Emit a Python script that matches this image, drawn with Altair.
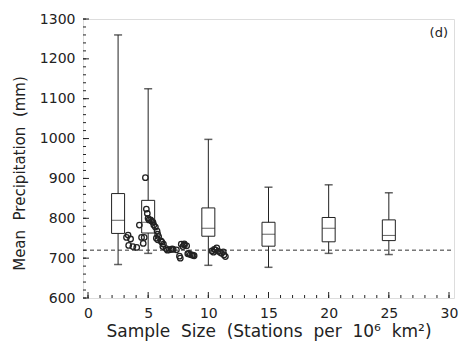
import altair as alt
import pandas as pd

# ---- data ----
box_x = [2.5, 5, 10, 15, 20, 25]
whisk_hi = [1260, 1125, 998, 878, 884, 864]
q3 = [862, 845, 826, 790, 802, 796]
median = [795, 790, 775, 760, 775, 757]
q1 = [762, 763, 755, 730, 741, 744]
whisk_lo = [684, 712, 682, 677, 712, 709]

pts_x = [3.2, 3.33, 3.54, 3.38, 3.73, 4.05, 4.27, 4.45, 4.67, 4.59, 4.77, 4.85,
         4.93, 4.99, 5.07, 5.2, 5.28, 5.4, 5.47, 5.6, 5.68, 5.74, 5.79, 5.8,
         5.87, 6.06, 6.14, 6.22, 6.27, 6.49, 6.6, 6.76, 6.9, 7.0, 7.08, 7.35,
         7.6, 7.67, 7.75, 7.88, 8.0, 8.02, 8.2, 8.29, 8.37, 8.5, 8.63, 8.74,
         8.82, 10.3, 10.43, 10.5, 10.6, 10.7, 10.84, 11.0, 11.1, 11.24, 11.3, 11.42]
pts_y = [752, 758, 748, 732, 729, 727, 783, 752, 752, 737, 902, 823,
         812, 800, 796, 796, 793, 790, 783, 778, 750, 768, 760, 746,
         754, 743, 740, 729, 735, 724, 720, 721, 722, 723, 722, 721,
         705, 700, 735, 729, 736, 733, 731, 711, 712, 709, 708, 707,
         706, 718, 715, 722, 720, 726, 717, 714, 712, 716, 708, 704]

reference_level = [720]

x_major = [0, 5, 10, 15, 20, 25, 30]
x_minor = list(range(0, 31))
y_major = [600, 700, 800, 900, 1000, 1100, 1200, 1300]
y_minor = list(range(600, 1301, 20))

W, H = 371, 279
INK = "#222222"
FONT = "DejaVu Sans"

boxes = pd.DataFrame(dict(x=box_x, hi=whisk_hi, q3=q3, med=median, q1=q1, lo=whisk_lo))
pts = pd.DataFrame(dict(x=pts_x, y=pts_y))

xs = alt.Scale(domain=[0, 30], nice=False, zero=False)
ys = alt.Scale(domain=[600, 1300], nice=False, zero=False)

x_axis = alt.Axis(values=x_major, ticks=False, grid=False, domain=False,
                  labelPadding=8, labelFontSize=14, labelFont=FONT, labelColor=INK,
                  labelFlush=False, labelOverlap=False, format="d",
                  title="Sample\u00a0 Size\u00a0 (Stations\u00a0 per\u00a0 10\u2076\u00a0 km\u00b2)",
                  titleFont=FONT, titleFontSize=17, titleFontWeight="normal",
                  titleColor=INK, titlePadding=3)
y_axis = alt.Axis(values=y_major, ticks=False, grid=False, domain=False,
                  labelPadding=8, labelFontSize=14, labelFont=FONT, labelColor=INK,
                  labelFlush=False, labelOverlap=False, format="d",
                  title="Mean\u00a0 Precipitation\u00a0 (mm)",
                  titleFont=FONT, titleFontSize=15, titleFontWeight="normal",
                  titleColor=INK, titleX=-64, titleY=154, titleAngle=270,
                  titleAlign="center", titleBaseline="middle")


def X(f):
    return alt.X(f, scale=xs, axis=x_axis)


def Y(f):
    return alt.Y(f, scale=ys, axis=y_axis)


whiskers = alt.Chart(boxes).mark_rule(color=INK, strokeWidth=1).encode(
    x=X("x:Q"), y=Y("lo:Q"), y2="hi:Q")
box = alt.Chart(boxes).mark_bar(size=13, fill="white", stroke=INK, strokeWidth=1,
                                orient="vertical").encode(
    x=X("x:Q"), y=Y("q1:Q"), y2="q3:Q")
med = alt.Chart(boxes).mark_tick(orient="horizontal", size=13, thickness=1, color=INK).encode(
    x=X("x:Q"), y=Y("med:Q"))
cap_hi = alt.Chart(boxes).mark_tick(orient="horizontal", size=8, thickness=1.5, color=INK).encode(
    x=X("x:Q"), y=Y("hi:Q"))
cap_lo = alt.Chart(boxes).mark_tick(orient="horizontal", size=8, thickness=1.5, color=INK).encode(
    x=X("x:Q"), y=Y("lo:Q"))

ref = alt.Chart(pd.DataFrame(dict(v=reference_level))).mark_rule(
    color="#333333", strokeWidth=1, strokeDash=[4, 3]).encode(
    y=Y("v:Q"), x=alt.value(0), x2=alt.value(W))

circles = alt.Chart(pts).mark_point(shape="circle", filled=False, size=30,
                                    stroke=INK, strokeWidth=1.3, opacity=1).encode(
    x=X("x:Q"), y=Y("y:Q"))

xt_major = alt.Chart(pd.DataFrame(dict(v=x_major))).mark_rule(color=INK, strokeWidth=1).encode(
    x=X("v:Q"), y=alt.value(H), y2=alt.value(H - 6))
xt_minor = alt.Chart(pd.DataFrame(dict(v=x_minor))).mark_rule(color=INK, strokeWidth=1).encode(
    x=X("v:Q"), y=alt.value(H), y2=alt.value(H - 3))
yt_major = alt.Chart(pd.DataFrame(dict(v=y_major))).mark_rule(color=INK, strokeWidth=1).encode(
    y=Y("v:Q"), x=alt.value(0), x2=alt.value(6))
yt_minor = alt.Chart(pd.DataFrame(dict(v=y_minor))).mark_rule(color=INK, strokeWidth=1).encode(
    y=Y("v:Q"), x=alt.value(0), x2=alt.value(3))

label = alt.Chart(pd.DataFrame(dict(t=["(d)"]))).mark_text(
    align="right", baseline="middle", font=FONT, fontSize=13, color=INK).encode(
    text="t:N", x=alt.value(W - 6), y=alt.value(14))

chart = alt.layer(
    whiskers, box, med, cap_hi, cap_lo, ref, circles,
    xt_minor, xt_major, yt_minor, yt_major, label
).properties(
    width=W, height=H,
    autosize=alt.AutoSizeParams(type="none"),
    padding={"left": 83, "top": 19, "right": 11, "bottom": 46},
).configure_view(stroke=INK, strokeWidth=1.2).configure(background="white")

chart.save("out.html", embed_options={"renderer": "svg", "actions": False})
